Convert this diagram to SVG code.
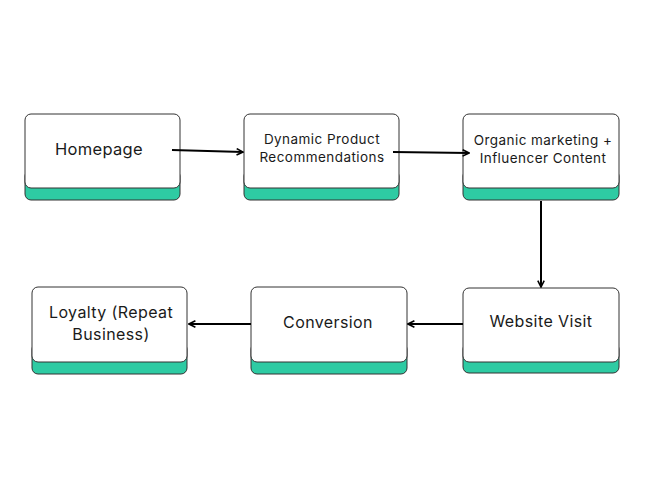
<svg xmlns="http://www.w3.org/2000/svg" width="650" height="488" viewBox="0 0 650 488">
<defs>
<style>
.base{fill:#2ECBA3;stroke:#333;stroke-width:1}
.card{fill:#fff;stroke:#333;stroke-width:1}
.t{font-family:Inter,"Open Sans",sans-serif;fill:#1a1a1a;text-anchor:middle}
.s{font-size:13.5px;letter-spacing:0.45px}
.m{font-size:16px;letter-spacing:0.4px}
.l{stroke:#000;stroke-width:2;fill:none;marker-end:url(#ah)}
</style>
<marker id="ah" viewBox="0 0 10 10" refX="9" refY="5" markerWidth="4" markerHeight="4" orient="auto">
<path d="M1,1 L9,5 L1,9" fill="none" stroke="#000" stroke-width="2"/>
</marker>
</defs>
<rect width="650" height="488" fill="#fff"/>
<g id="homepage">
<rect class="base" x="25" y="170" width="155" height="30" rx="6"/>
<rect class="card" x="25" y="114" width="155" height="74" rx="6"/>
<text class="t" x="99" y="155" font-size="16.5" letter-spacing="0.3">Homepage</text>
</g>
<g id="dynamic">
<rect class="base" x="244" y="170" width="155" height="30" rx="6"/>
<rect class="card" x="244" y="114" width="155" height="74" rx="6"/>
<text class="t s" x="322" y="144">Dynamic Product</text>
<text class="t s" x="322" y="162">Recommendations</text>
</g>
<g id="organic">
<rect class="base" x="463" y="170" width="156" height="30" rx="6"/>
<rect class="card" x="463" y="114" width="156" height="74" rx="6"/>
<text class="t s" x="543" y="145">Organic marketing +</text>
<text class="t s" x="543" y="163">Influencer Content</text>
</g>
<g id="website">
<rect class="base" x="463" y="343" width="156" height="30" rx="6"/>
<rect class="card" x="463" y="288" width="156" height="74" rx="6"/>
<text class="t m" x="541" y="327">Website Visit</text>
</g>
<g id="conversion">
<rect class="base" x="251" y="343" width="156" height="31" rx="6"/>
<rect class="card" x="251" y="287" width="156" height="75" rx="6"/>
<text class="t m" x="328" y="328">Conversion</text>
</g>
<g id="loyalty">
<rect class="base" x="32" y="343" width="155" height="31" rx="6"/>
<rect class="card" x="32" y="287" width="155" height="75" rx="6"/>
<text class="t m" x="111" y="318">Loyalty (Repeat</text>
<text class="t m" x="111" y="340">Business)</text>
</g>
<g id="connectors">
<path class="l" d="M172,150 L243,152"/>
<path class="l" d="M393,152 L469,153"/>
<path class="l" d="M541,201 L541,287"/>
<path class="l" d="M463,324 L408,324"/>
<path class="l" d="M251,324 L189,324"/>
</g>
</svg>
